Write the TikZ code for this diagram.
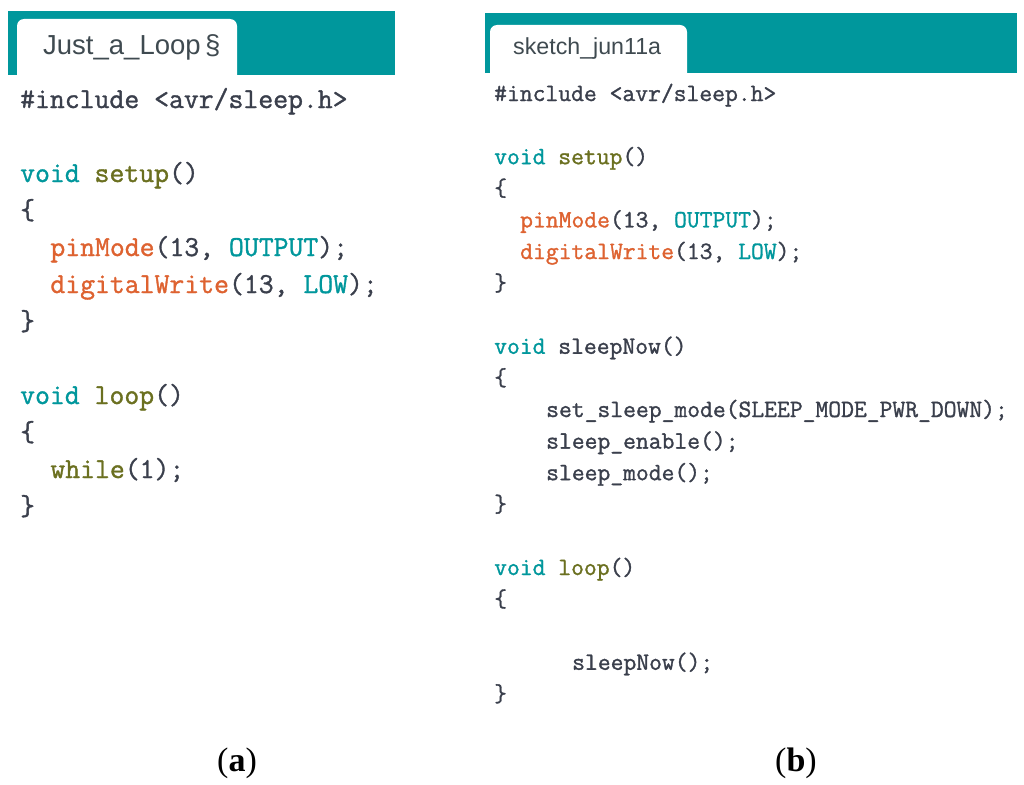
\documentclass[tikz,border=0pt]{standalone}
\usepackage{fontspec}
\usepackage{xcolor}
\setmainfont{Liberation Serif}
\setsansfont{Liberation Sans}
\setmonofont{Latin Modern Mono}[AutoFakeBold=1.2]
\usetikzlibrary{positioning}

\definecolor{ardteal}{HTML}{00979C}
\definecolor{ardolive}{HTML}{6B7020}
\definecolor{ardorange}{HTML}{DE6230}
\definecolor{arddark}{HTML}{3A3F4C}
\definecolor{tabgray}{HTML}{3F4A50}

\newcommand{\kw}[1]{\textcolor{ardteal}{#1}}
\newcommand{\fn}[1]{\textcolor{ardolive}{#1}}
\newcommand{\ar}[1]{\textcolor{ardorange}{#1}}

\begin{document}
\begin{tikzpicture}[
x=1pt, y=-1pt,
codeA/.style={anchor=base west,inner sep=0pt,text=arddark,font=\ttfamily\bfseries\fontsize{28.9}{34}\selectfont},
codeB/.style={anchor=base west,inner sep=0pt,text=arddark,font=\ttfamily\bfseries\fontsize{24.9}{29}\selectfont},
tabtext/.style={anchor=base west,inner sep=0pt,text=tabgray,font=\sffamily},
caption/.style={anchor=base,inner sep=0pt,font=\fontsize{34}{40}\selectfont}]
    \useasboundingbox (0,0) rectangle (1024,784);
    \fill[white] (0,0) rectangle (1024,784);

    % Tab bars
    \fill[ardteal] (8,11) rectangle (395,75);
    \fill[white,rounded corners=7pt] (17,90) -- (17,19) -- (237,19) -- (237,90);
    \fill[white] (8,75) rectangle (395,95);
    \fill[ardteal] (485,13) rectangle (1017,73);
    \fill[white,rounded corners=7pt] (490,90) -- (490,25) -- (687,25) -- (687,90);
    \fill[white] (485,73) rectangle (1017,95);

    \node[tabtext,font=\sffamily\fontsize{27.5}{32}\selectfont] (tabA) at (43,55) {Just\_a\_Loop\,§};
    \node[tabtext,font=\sffamily\fontsize{23.2}{27}\selectfont] (tabB) at (513,55) {sketch\_jun11a};

    % Code (a)
    \node[codeA] (la0) at (20,108) {\#include <avr/sleep.h>};
    \node[codeA] (la2) at (20,182) {\kw{void} \fn{setup}()};
    \node[codeA] (la3) at (20,219) {\{};
    \node[codeA] (la4) at (50.2,256) {\ar{pinMode}(13, \kw{OUTPUT});};
    \node[codeA] (la5) at (50.2,293) {\ar{digitalWrite}(13, \kw{LOW});};
    \node[codeA] (la6) at (20,330) {\}};
    \node[codeA] (la8) at (20,404) {\kw{void} \fn{loop}()};
    \node[codeA] (la9) at (20,441) {\{};
    \node[codeA] (la10) at (50.2,478) {\fn{while}(1);};
    \node[codeA] (la11) at (20,515) {\}};

    % Code (b)
    \node[codeB] (lb0) at (494,101) {\#include <avr/sleep.h>};
    \node[codeB] (lb2) at (494,164.2) {\kw{void} \fn{setup}()};
    \node[codeB] (lb3) at (494,195.8) {\{};
    \node[codeB] (lb4) at (520,227.4) {\ar{pinMode}(13, \kw{OUTPUT});};
    \node[codeB] (lb5) at (520,259) {\ar{digitalWrite}(13, \kw{LOW});};
    \node[codeB] (lb6) at (494,290.6) {\}};
    \node[codeB] (lb8) at (494,353.8) {\kw{void} sleepNow()};
    \node[codeB] (lb9) at (494,385.4) {\{};
    \node[codeB] (lb10) at (546,417) {set\_sleep\_mode(SLEEP\_MODE\_PWR\_DOWN);};
    \node[codeB] (lb11) at (546,448.6) {sleep\_enable();};
    \node[codeB] (lb12) at (546,480.2) {sleep\_mode();};
    \node[codeB] (lb13) at (494,511.8) {\}};
    \node[codeB] (lb15) at (494,575) {\kw{void} \fn{loop}()};
    \node[codeB] (lb16) at (494,606.6) {\{};
    \node[codeB] (lb18) at (572,669.8) {sleepNow();};
    \node[codeB] (lb19) at (494,701.4) {\}};

    % Captions
    \node[caption] (capA) at (237,771) {(\textbf{a})};
    \node[caption] (capB) at (796,771) {(\textbf{b})};

\end{tikzpicture}
\end{document}
